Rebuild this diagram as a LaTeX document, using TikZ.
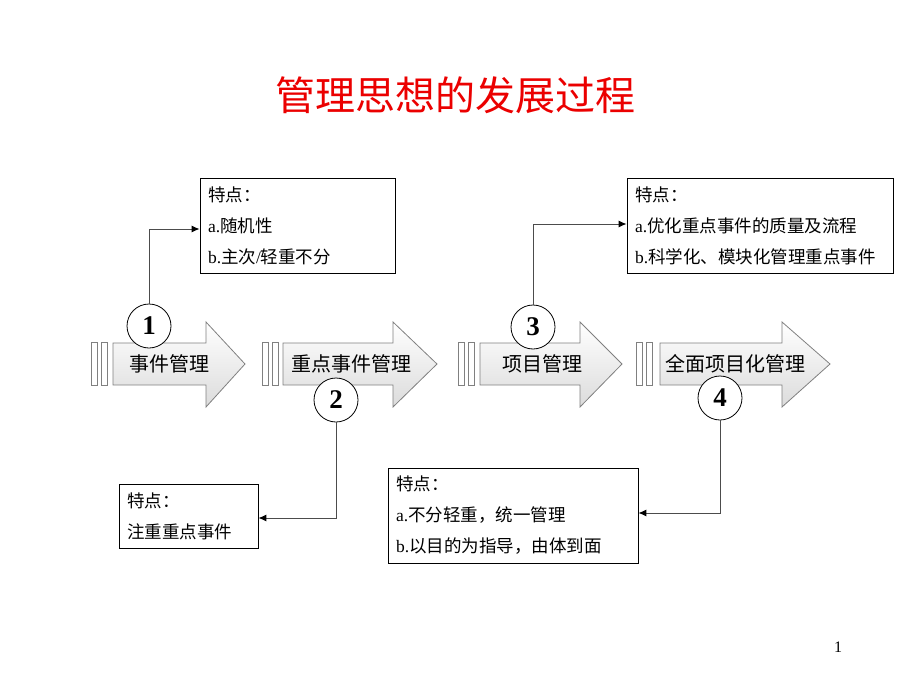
\documentclass[tikz,border=0pt]{standalone}
\usepackage{fontspec}
\setmainfont{Liberation Serif}
\newfontfamily\cjk{Noto Sans CJK SC}
\usetikzlibrary{arrows.meta,calc}
\definecolor{titlered}{RGB}{235,0,0}
\tikzset{
  bigarr/.style ={draw=gray, top color=white, bottom color=gray!28, line width=0.8pt},
  barbox/.style ={draw=gray, fill=white, line width=0.8pt},
  stage/.style  ={font=\cjk\fontsize{20}{20}\selectfont, inner sep=0pt},
  num/.style    ={circle, draw, fill=white, minimum size=44pt, inner sep=0pt,
                  line width=0.8pt, font=\bfseries\fontsize{27}{27}\selectfont},
  note/.style   ={draw, line width=0.8pt, align=left, inner xsep=8pt,
                  font=\fontsize{17.5}{31}\selectfont},
  link/.style   ={-{Latex[length=8pt,width=7pt,color=black]}, draw=gray!60!black, line width=1pt},
}
% bars left edge, body left, head base, tip
\newcommand{\stagearrow}[4]{%
  \draw[barbox] (#1,342) rectangle ++(6,43);
  \draw[barbox] (#1+10,342) rectangle ++(6,43);
  \draw[bigarr] (#2,343) -- (#3,343) -- (#3,322) -- (#4,364) -- (#3,407)
     -- (#3,385) -- (#2,385) -- cycle;
}
\begin{document}
\begin{tikzpicture}[x=1pt,y=-1pt]
\useasboundingbox (0,0) rectangle (920,690);

% title
\node[text=titlered,font=\cjk\fontsize{40}{40}\selectfont] (title) at (455,95) {管理思想的发展过程};

% stage arrows
\stagearrow{91}{113}{206}{245}
\stagearrow{262}{283}{393}{437}
\stagearrow{458}{480}{580}{622}
\stagearrow{636}{660}{782}{830}

\node[stage] (s1) at (169,364) {事件管理};
\node[stage] (s2) at (351,364) {重点事件管理};
\node[stage] (s3) at (542,364) {项目管理};
\node[stage] (s4) at (735,364) {全面项目化管理};

\node[num] (c1) at (149,326) {1};
\node[num] (c2) at (336,400) {2};
\node[num] (c3) at (533,327) {3};
\node[num] (c4) at (720,398) {4};

% notes
\node[note, text width=179pt, minimum height=95pt] (b1) at (297.5,225.5)
  {{\cjk 特点：}\\a.{\cjk 随机性}\\b.{\cjk 主次}/{\cjk 轻重不分}};
\node[note, text width=250pt, minimum height=95pt] (b3) at (760,225.5)
  {{\cjk 特点：}\\a.{\cjk 优化重点事件的质量及流程}\\b.{\cjk 科学化、模块化管理重点事件}};
\node[note, text width=123pt, minimum height=64pt] (b2) at (188.5,516)
  {{\cjk 特点：}\\{\cjk 注重重点事件}};
\node[note, text width=234pt, minimum height=95pt] (b4) at (513,515.5)
  {{\cjk 特点：}\\a.{\cjk 不分轻重，统一管理}\\b.{\cjk 以目的为指导，由体到面}};

\draw[link] (c1.north) |- ([yshift=-3.5pt]b1.west);
\draw[link] (c3.north) |- ([yshift=1.5pt]b3.west);
\draw[link] (c2.south) |- ([yshift=-2pt]b2.east);
\draw[link] (c4.south) |- ([yshift=2.5pt]b4.east);

\node[font=\fontsize{16}{16}\selectfont] (pg) at (838,647) {1};
\end{tikzpicture}
\end{document}
